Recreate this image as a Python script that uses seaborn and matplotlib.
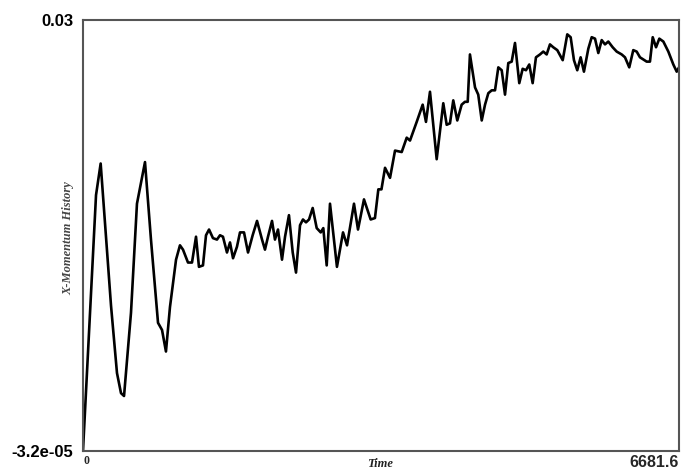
import matplotlib
matplotlib.use("Agg")
import matplotlib.pyplot as plt
import seaborn as sns
import pandas as pd

time = [0, 146, 198, 258, 314, 381, 426, 460, 538, 605, 695, 762, 841, 886, 930, 975,
        1043, 1087, 1121, 1177, 1222, 1267, 1300, 1345, 1379, 1413, 1457, 1502, 1536, 1569,
        1614, 1648, 1682, 1726, 1760, 1805, 1850, 1902, 1951, 2007, 2040, 2074, 2119, 2152,
        2186, 2231, 2265, 2309, 2351, 2388, 2433, 2466, 2500, 2534, 2575, 2620, 2665, 2694,
        2732, 2769, 2847, 2915, 2960, 3038, 3083, 3150, 3225, 3273, 3311, 3346, 3386, 3442,
        3498, 3573, 3629, 3666, 3741, 3808, 3845, 3890, 3965, 4039, 4077, 4114, 4151, 4196,
        4245, 4282, 4313, 4338, 4395, 4431, 4470, 4507, 4544, 4582, 4619, 4656, 4694, 4731,
        4768, 4806, 4843, 4891, 4929, 4966, 5003, 5041, 5078, 5123, 5160, 5198, 5235, 5272,
        5317, 5378, 5429, 5467, 5504, 5541, 5579, 5616, 5665, 5703, 5740, 5777, 5815, 5852,
        5889, 5938, 5983, 6039, 6076, 6124, 6169, 6207, 6244, 6319, 6356, 6387, 6424, 6461,
        6506, 6562, 6618, 6656, 6681.6]
x_momentum = [0.0, 0.0178, 0.0200, 0.0149, 0.0101, 0.0054, 0.0040, 0.0038, 0.0096, 0.0172,
              0.0201, 0.0147, 0.0089, 0.0084, 0.0069, 0.0100, 0.0133, 0.0143, 0.0140, 0.0131,
              0.0131, 0.0149, 0.0128, 0.0129, 0.0150, 0.0154, 0.0148, 0.0147, 0.0150, 0.0149,
              0.0138, 0.0145, 0.0134, 0.0142, 0.0152, 0.0152, 0.0138, 0.0150, 0.0160, 0.0147,
              0.0140, 0.0149, 0.0160, 0.0147, 0.0154, 0.0133, 0.0149, 0.0164, 0.0138, 0.0124,
              0.0157, 0.0161, 0.0159, 0.0161, 0.0169, 0.0155, 0.0152, 0.0155, 0.0129, 0.0172,
              0.0128, 0.0152, 0.0143, 0.0172, 0.0154, 0.0175, 0.0161, 0.0162, 0.0182, 0.0182,
              0.0197, 0.0190, 0.0209, 0.0208, 0.0218, 0.0216, 0.0229, 0.0241, 0.0229, 0.0250,
              0.0203, 0.0242, 0.0227, 0.0228, 0.0244, 0.0230, 0.0241, 0.0243, 0.0243, 0.0276,
              0.0253, 0.0248, 0.0230, 0.0241, 0.0249, 0.0251, 0.0251, 0.0267, 0.0265, 0.0248,
              0.0270, 0.0271, 0.0284, 0.0256, 0.0266, 0.0265, 0.0269, 0.0256, 0.0274, 0.0276,
              0.0278, 0.0276, 0.0283, 0.0281, 0.0279, 0.0272, 0.0290, 0.0288, 0.0272, 0.0265,
              0.0274, 0.0264, 0.0280, 0.0288, 0.0287, 0.0277, 0.0286, 0.0283, 0.0285, 0.0281,
              0.0278, 0.0276, 0.0274, 0.0267, 0.0279, 0.0278, 0.0274, 0.0271, 0.0271, 0.0288,
              0.0281, 0.0287, 0.0285, 0.0278, 0.0269, 0.0264, 0.0267]

x_ticks = [0, 6681.6]
x_tick_labels = ["0", "6681.6"]
y_ticks = [-3.2e-05, 0.03]
y_tick_labels = ["-3.2e-05", "0.03"]

sns.set_style("white")
plt.rcParams['font.family'] = ['Liberation Sans', 'DejaVu Sans']

df = pd.DataFrame({"Time": time, "X-Momentum History": x_momentum})

fig = plt.figure(figsize=(6.82, 4.70), dpi=100)
ax = fig.add_axes([83/682, 1 - 451/470, 596/682, 431/470])
sns.lineplot(data=df, x="Time", y="X-Momentum History", ax=ax,
             color="black", linewidth=1.9, estimator=None, sort=False)

ax.set_xlim(x_ticks[0], x_ticks[1])
ax.set_ylim(y_ticks[0], y_ticks[1])

for s in ax.spines.values():
    s.set_color("#555555")
    s.set_linewidth(1.5)

ax.set_yticks(y_ticks)
ax.set_yticklabels(y_tick_labels, fontsize=12, fontweight="bold", color="black")
ax.set_xticks(x_ticks)
ax.set_xticklabels(x_tick_labels)
ax.tick_params(axis="both", length=0)
ax.tick_params(axis="y", pad=7)
ax.tick_params(axis="x", pad=3)

xl = ax.get_xticklabels()
xl[0].set_fontfamily(["Liberation Serif"])
xl[0].set_fontsize(8.5)
xl[0].set_fontweight("bold")
xl[0].set_horizontalalignment("left")
xl[1].set_fontfamily(["Liberation Sans"])
xl[1].set_fontsize(11.5)
xl[1].set_fontweight("bold")
xl[1].set_horizontalalignment("right")

ax.set_xlabel("Time", fontfamily=["Liberation Serif"], fontstyle="italic",
              fontweight="bold", fontsize=9, color="#222222")
ax.set_ylabel("X-Momentum History", fontfamily=["Liberation Serif"], fontstyle="italic",
              fontweight="bold", fontsize=9, color="#444444")
ax.xaxis.set_label_coords(0.498, -0.016)
ax.yaxis.set_label_coords(-0.014, 0.495)

ax.grid(False)
fig.savefig("out.png", dpi=100)
